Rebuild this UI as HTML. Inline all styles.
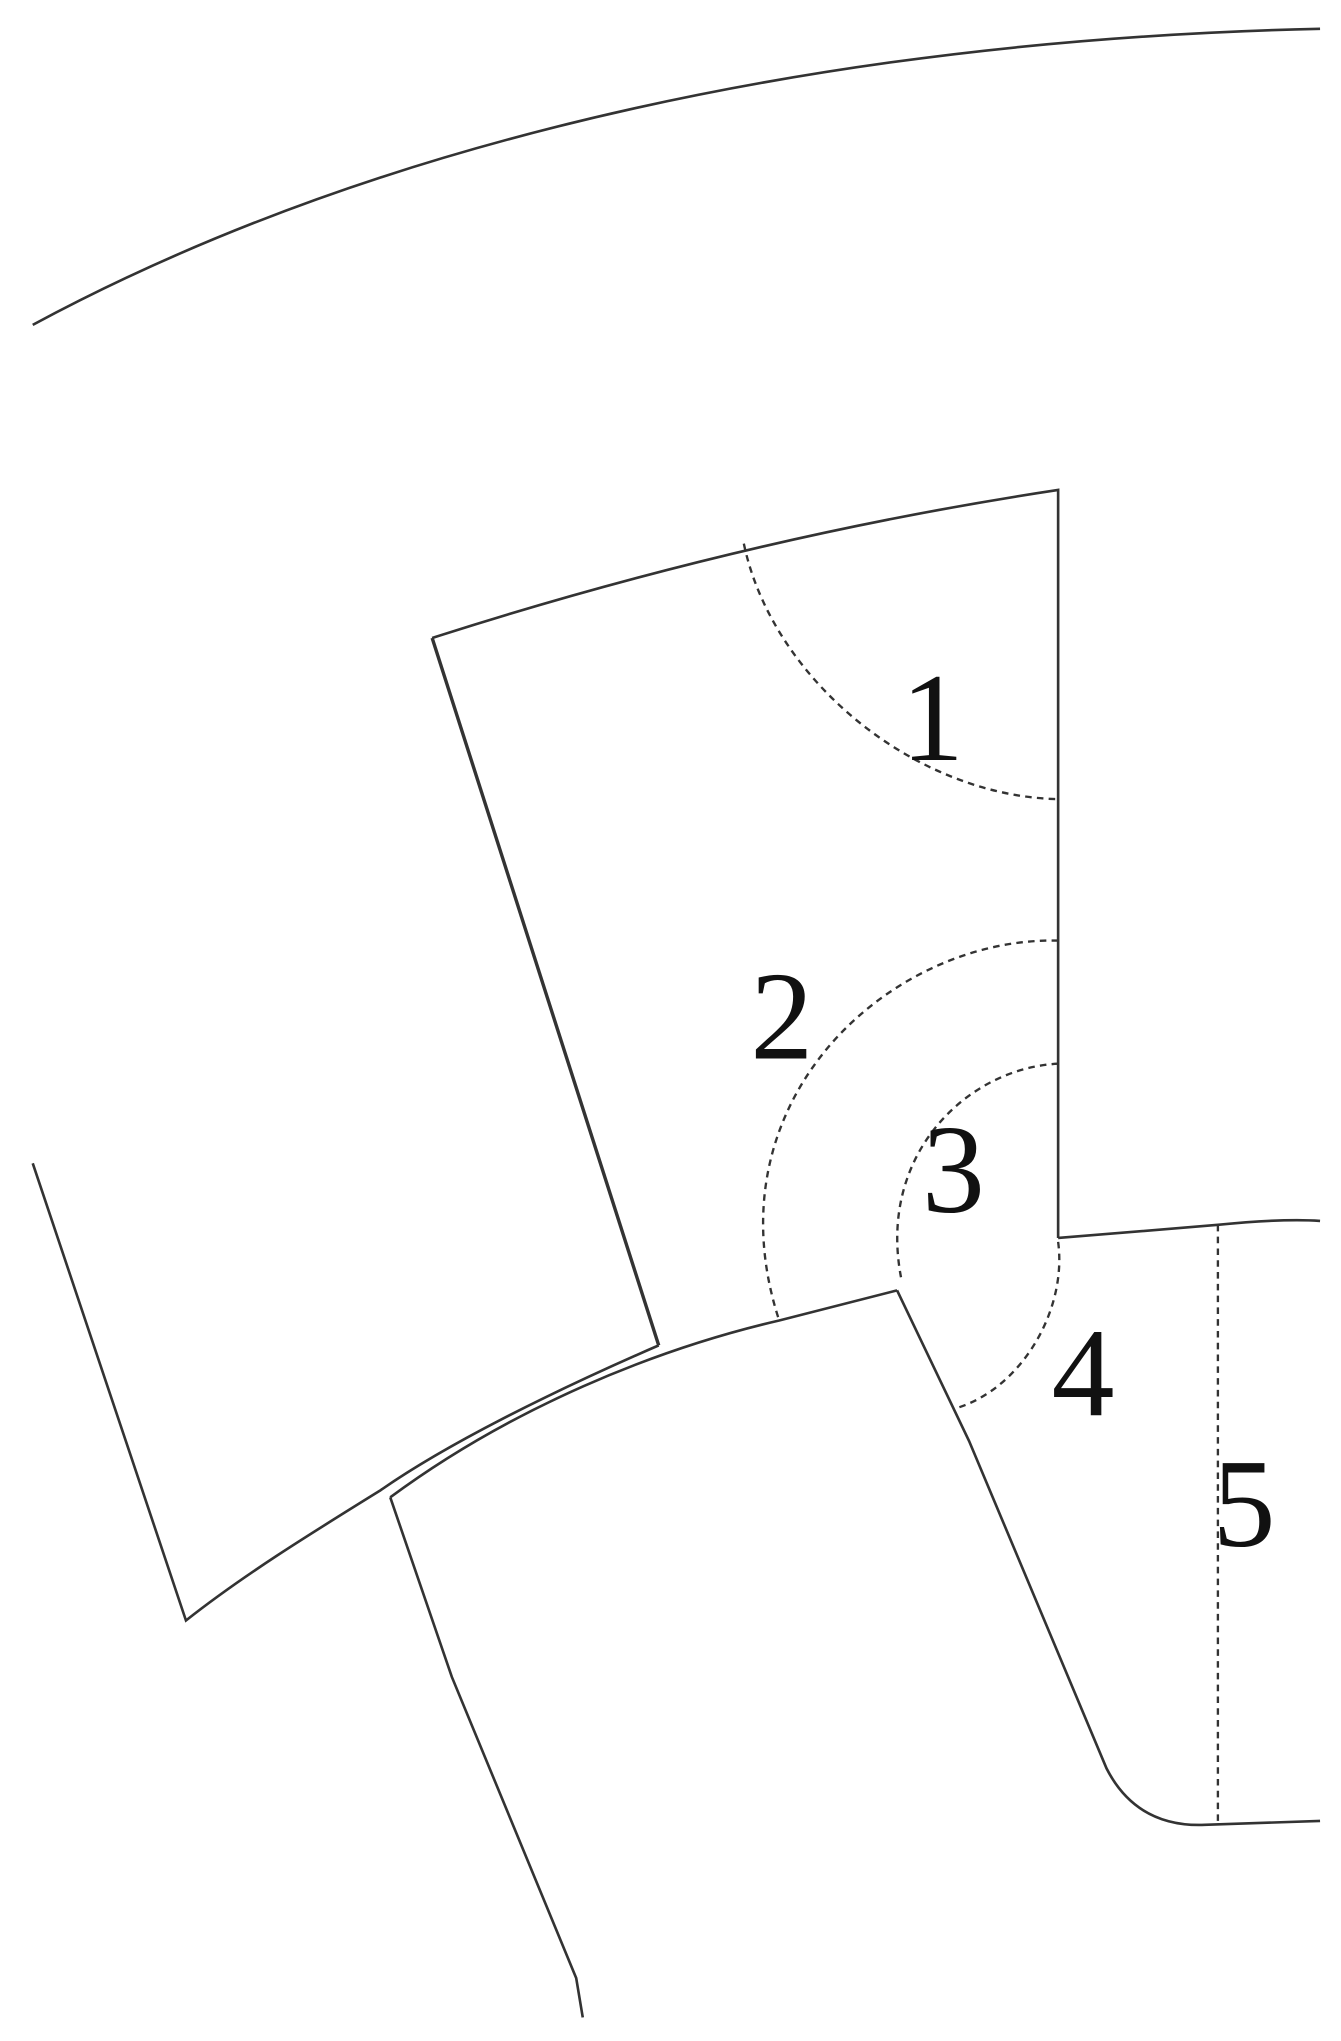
<!DOCTYPE html>
<html><head><meta charset="utf-8"><style>
html,body{margin:0;padding:0;background:#fff;}
svg{display:block;}
</style></head><body>
<svg width="1341" height="2041" viewBox="0 0 1024 1558" preserveAspectRatio="none" xmlns="http://www.w3.org/2000/svg">
<g fill="none" stroke="#333" stroke-width="2">
<path d="M25,248 C300,100 650,30 1008,22"/>
<path d="M330,487 Q570,410 808,374 L808,945"/>
<path d="M330,487 L503,1027" stroke-width="2.6"/>
<path d="M503,1027 C420,1063 340,1103 290,1138 C235,1172 185,1203 142,1237 L25,888"/>
<path d="M298,1143 C390,1075 500,1030 595,1008 L685,985"/>
<path d="M298,1143 L345,1280 L440,1510 L445,1540"/>
<path d="M685,985 L740,1100 L845,1350 Q868,1395 920,1393 L1008,1390"/>
<path d="M808,945 L930,935 Q980,930 1008,932"/>
</g>
<g fill="none" stroke="#333" stroke-width="1.8" stroke-dasharray="5,4">
<path d="M930,935 L930,1393"/>
<path d="M568,415 C590,520 700,608 808,610"/>
<path d="M808,718 C680,715 540,840 595,1008"/>
<path d="M808,812 C740,815 670,880 688,975"/>
<path d="M808,948 C815,1000 780,1060 730,1075"/>
</g>
<g font-family="Liberation Serif, serif" font-size="96" fill="#111" text-anchor="middle">
<text x="712" y="580">1</text>
<text x="597" y="808">2</text>
<text x="728" y="925">3</text>
<text x="827" y="1080">4</text>
<text x="950" y="1180">5</text>
</g>
</svg>
</body></html>
